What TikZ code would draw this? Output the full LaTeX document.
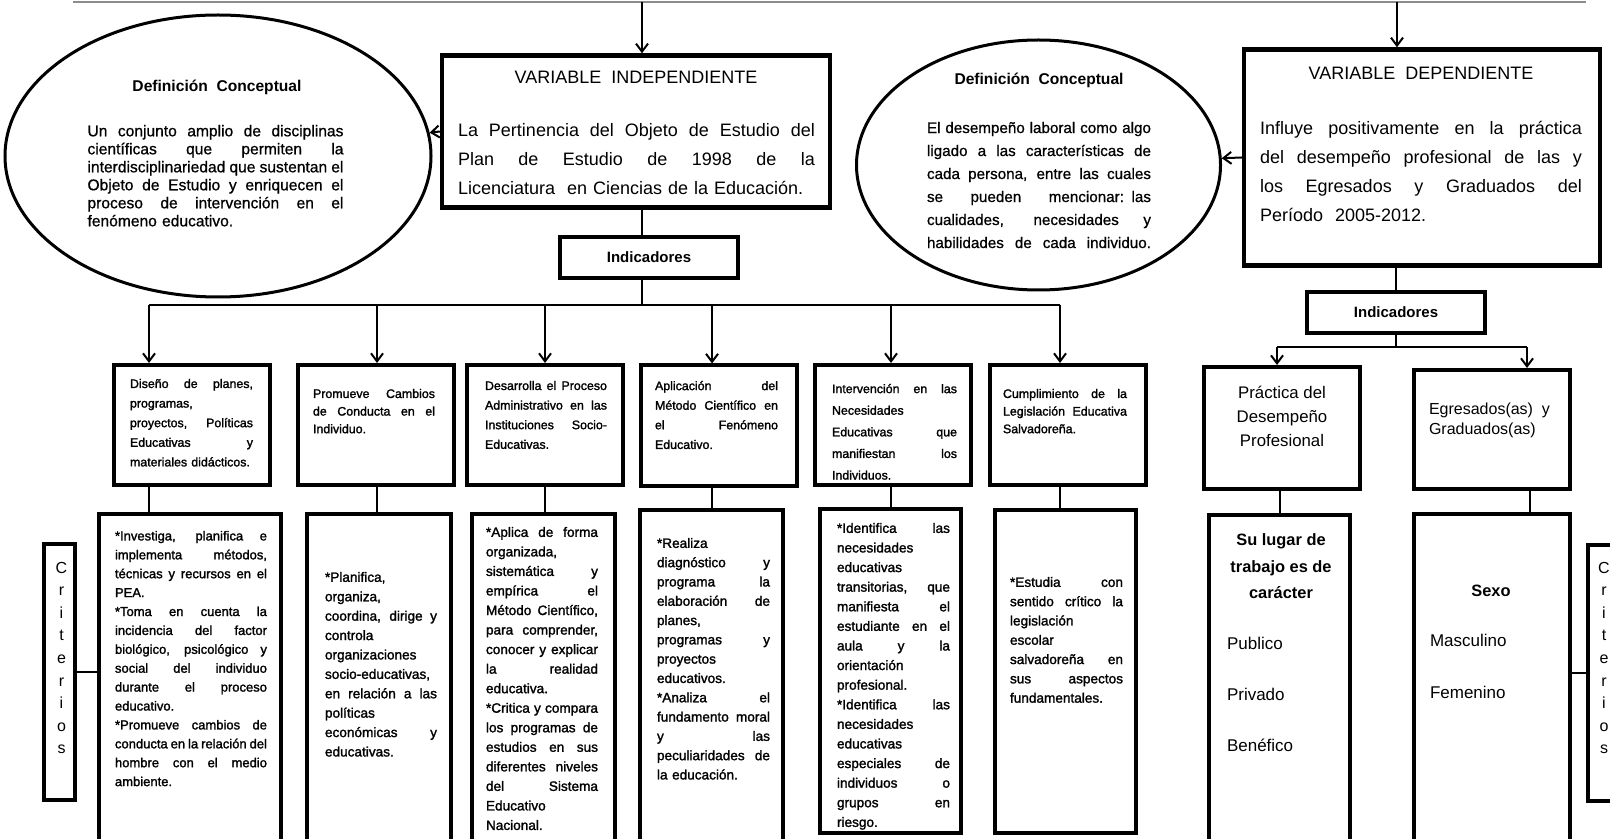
\documentclass[tikz,border=0pt]{standalone}
\usepackage{fontspec}
\setmainfont{Liberation Sans}
\newfontfamily\gruesa[FakeBold=1.6]{Liberation Sans}
\newfontfamily\media[FakeBold=0.8]{Liberation Sans}
\usetikzlibrary{shapes.geometric, arrows.meta}
\setlength{\parindent}{0pt}
\hbadness=10000
\hfuzz=4pt
\newcommand{\anchorenglon}{50pt}
\newcommand{\renglon}[1]{\leavevmode{\spaceskip=.278em plus 1fil minus .1em\relax\hbox to \anchorenglon{#1}}}

\begin{document}
\begin{tikzpicture}[x=0.5pt, y=-0.5pt, >={Straight Barb[length=4pt,width=6pt]}, line width=1pt,
  ancho/.style={text width=#1, execute at begin node={\def\anchorenglon{#1}}},
  caja/.style={draw, line width=2.2pt, inner sep=0pt},
  cuadro/.style={draw, line width=2pt, inner sep=0pt, minimum width=78pt, minimum height=60pt},
  larga/.style={draw, line width=2pt, inner sep=0pt},
  ovalo/.style={ellipse, draw, line width=1.5pt, inner sep=0pt},
  cabeza/.style={font=\fontsize{9}{11}\selectfont, inner sep=0pt, anchor=north},
  titulo/.style={font=\bfseries\fontsize{7.8}{9}\selectfont, inner sep=0pt, anchor=north},
  grande/.style={font=\fontsize{9}{14.5}\selectfont, inner sep=0pt, anchor=north, align=left},
  chico/.style={font=\gruesa\fontsize{6.2}{9.8}\selectfont, inner sep=0pt, anchor=north, align=left},
  abajo/.style={font=\gruesa\fontsize{6.8}{9.7}\selectfont, inner sep=0pt, anchor=north, align=left},
  letras/.style={font=\fontsize{8}{11.3}\selectfont, inner sep=0pt, anchor=north, align=center}]

  \useasboundingbox (0,0) rectangle (1610,839);
  \clip (0,0) rectangle (1610,839);

  \coordinate (topL) at (73,2);
  \coordinate (topR) at (1586,2);
  \coordinate (tI) at (642,2);
  \coordinate (tD) at (1397,2);
  \coordinate (busI) at (642,305);
  \coordinate (busD) at (1396,347);

  \node[caja, minimum width=194pt, minimum height=76pt] (vi) at (636,131.5) {};
  \node[cabeza] (viT) at (636,70.5) {VARIABLE\ \ INDEPENDIENTE};
  \node[grande, ancho=178.5pt] (viB) at (636.5,122) {\renglon{La Pertinencia del Objeto de Estudio del}\\
    \renglon{Plan de Estudio de 1998 de la}\\ Licenciatura\ \ en Ciencias de la Educación.};

  \node[caja, minimum width=178pt, minimum height=108pt] (vd) at (1422,157.5) {};
  \node[cabeza] (vdT) at (1421,66.5) {VARIABLE\ \ DEPENDIENTE};
  \node[grande, ancho=161pt] (vdB) at (1421,120) {\renglon{Influye positivamente en la práctica}\\
    \renglon{del desempeño profesional de las y}\\ \renglon{los Egresados y Graduados del}\\ Período\ \ 2005-2012.};

  \node[ovalo, minimum width=213pt, minimum height=141pt] (ellL) at (218,156) {};
  \node[titulo] (ellLT) at (217,79) {Definición\ \ Conceptual};
  \node[grande, font=\media\fontsize{7.8}{9}\selectfont, ancho=128pt] (ellLB) at (215.5,124) {\renglon{Un conjunto amplio de disciplinas}\\
    \renglon{científicas que permiten la}\\ \renglon{interdisciplinariedad que sustentan el}\\
    \renglon{Objeto de Estudio y enriquecen el}\\ \renglon{proceso de intervención en el}\\ fenómeno educativo.};

  \node[ovalo, minimum width=182pt, minimum height=125pt] (ellR) at (1038.5,165) {};
  \node[titulo] (ellRT) at (1039,72) {Definición\ \ Conceptual};
  \node[grande, font=\media\fontsize{7.6}{11.5}\selectfont, ancho=112pt] (ellRB) at (1039,121) {\renglon{El desempeño laboral como algo}\\
    \renglon{ligado a las características de}\\ \renglon{cada persona, entre las cuales}\\
    \renglon{se pueden mencionar: las}\\ \renglon{cualidades, necesidades y}\\ \renglon{habilidades de cada individuo.}};

  \node[caja, line width=2pt, minimum width=89pt, minimum height=20.5pt, font=\bfseries\fontsize{7.5}{9}\selectfont] (indI) at (649,257.5) {Indicadores};
  \node[caja, line width=2pt, minimum width=89pt, minimum height=20.5pt, font=\bfseries\fontsize{7.5}{9}\selectfont] (indD) at (1396,312.5) {Indicadores};

  \node[cuadro] (c1) at (192,425) {};
  \node[cuadro] (c2) at (376,425) {};
  \node[cuadro] (c3) at (545,425) {};
  \node[cuadro] (c4) at (719,425.5) {};
  \node[cuadro] (c5) at (893,425) {};
  \node[cuadro] (c6) at (1068,425) {};
  \node[cuadro, minimum height=61pt] (c7) at (1282,428) {};
  \node[cuadro, minimum height=59.5pt] (c8) at (1492,429.5) {};

  \node[chico, ancho=61.5pt] (c1t) at (191.5,378) {\renglon{Diseño de planes,}\\ programas,\\
    \renglon{proyectos, Políticas}\\ \renglon{Educativas y}\\ materiales didácticos.};
  \node[chico, font=\gruesa\fontsize{6.2}{8.8}\selectfont, ancho=61pt] (c2t) at (374,388) {\renglon{Promueve Cambios}\\
    \renglon{de Conducta en el}\\ Individuo.};
  \node[chico, ancho=61pt] (c3t) at (546,380) {\renglon{Desarrolla el Proceso}\\ \renglon{Administrativo en las}\\
    \renglon{Instituciones Socio-}\\ Educativas.};
  \node[chico, ancho=61.5pt] (c4t) at (716.5,380) {\renglon{Aplicación del}\\ \renglon{Método Científico en}\\
    \renglon{el Fenómeno}\\ Educativo.};
  \node[chico, font=\gruesa\fontsize{6.2}{10.8}\selectfont, ancho=62.5pt] (c5t) at (894.5,383) {\renglon{Intervención en las}\\ Necesidades\\
    \renglon{Educativas que}\\ \renglon{manifiestan los}\\ Individuos.};
  \node[chico, font=\gruesa\fontsize{6.2}{8.8}\selectfont, ancho=62pt] (c6t) at (1065,388) {\renglon{Cumplimiento de la}\\
    \renglon{Legislación Educativa}\\ Salvadoreña.};
  \node[chico, font=\fontsize{8.4}{12}\selectfont, align=center] (c7t) at (1282,385) {Práctica del\\ Desempeño\\ Profesional};
  \node[chico, font=\fontsize{8}{10}\selectfont, anchor=north west] (c8t) at (1428,402) {Egresados(as)\ \ y\\ Graduados(as)};

  \node[larga, minimum width=91pt, minimum height=172pt] (d1) at (190,686) {};
  \node[larga, minimum width=72pt, minimum height=172pt] (d2) at (379,686) {};
  \node[larga, minimum width=71.5pt, minimum height=172pt] (d3) at (543.5,686) {};
  \node[larga, minimum width=71.5pt, minimum height=174pt] (d4) at (711.5,684) {};
  \node[larga, minimum width=70.5pt, minimum height=162pt] (d5) at (890.5,671) {};
  \node[larga, minimum width=70.5pt, minimum height=161.5pt] (d6) at (1065.5,671.5) {};
  \node[larga, minimum width=70.5pt, minimum height=171.5pt] (d7) at (1279.5,686.5) {};
  \node[larga, minimum width=78pt, minimum height=172pt] (d8) at (1492,686) {};

  \node[abajo, font=\gruesa\fontsize{6.5}{9.45}\selectfont, ancho=76pt] (d1t) at (191,530) {\renglon{*Investiga, planifica e}\\
    \renglon{implementa métodos,}\\ \renglon{técnicas y recursos en el}\\ PEA.\\
    \renglon{*Toma en cuenta la}\\ \renglon{incidencia del factor}\\ \renglon{biológico, psicológico y}\\
    \renglon{social del individuo}\\ \renglon{durante el proceso}\\ educativo.\\
    \renglon{*Promueve cambios de}\\ \renglon{conducta en la relación del}\\ \renglon{hombre con el medio}\\ ambiente.};
  \node[abajo, ancho=56pt] (d2t) at (381,571) {*Planifica,\\ organiza,\\ \renglon{coordina, dirige y}\\ controla\\
    organizaciones\\ socio-educativas,\\ \renglon{en relación a las}\\ políticas\\ \renglon{económicas y}\\ educativas.};
  \node[abajo, font=\gruesa\fontsize{6.8}{9.77}\selectfont, ancho=56pt] (d3t) at (542,526) {\renglon{*Aplica de forma}\\ organizada,\\
    \renglon{sistemática y}\\ \renglon{empírica el}\\ \renglon{Método Científico,}\\ \renglon{para comprender,}\\
    \renglon{conocer y explicar}\\ \renglon{la realidad}\\ educativa.\\ \renglon{*Critica y compara}\\
    \renglon{los programas de}\\ \renglon{estudios en sus}\\ \renglon{diferentes niveles}\\ \renglon{del Sistema}\\ Educativo\\ Nacional.};
  \node[abajo, font=\gruesa\fontsize{6.8}{9.65}\selectfont, ancho=56.5pt] (d4t) at (713.5,537) {*Realiza\\ \renglon{diagnóstico y}\\
    \renglon{programa la}\\ \renglon{elaboración de}\\ planes,\\ \renglon{programas y}\\ proyectos\\ educativos.\\
    \renglon{*Analiza el}\\ \renglon{fundamento moral}\\ \renglon{y las}\\ \renglon{peculiaridades de}\\ la educación.};
  \node[abajo, font=\gruesa\fontsize{6.8}{9.8}\selectfont, ancho=56.5pt] (d5t) at (893.5,522) {\renglon{*Identifica las}\\ necesidades\\
    educativas\\ \renglon{transitorias, que}\\ \renglon{manifiesta el}\\ \renglon{estudiante en el}\\ \renglon{aula y la}\\
    orientación\\ profesional.\\ \renglon{*Identifica las}\\ necesidades\\ educativas\\ \renglon{especiales de}\\
    \renglon{individuos o}\\ \renglon{grupos en}\\ riesgo.};
  \node[abajo, font=\gruesa\fontsize{6.8}{9.65}\selectfont, ancho=56.5pt] (d6t) at (1066.5,576) {\renglon{*Estudia con}\\
    \renglon{sentido crítico la}\\ legislación\\ escolar\\ \renglon{salvadoreña en}\\ \renglon{sus aspectos}\\ fundamentales.};
  \node[abajo, font=\bfseries\fontsize{8.2}{13.2}\selectfont, align=center] (d7t) at (1281,533) {Su lugar de\\ trabajo es de\\ carácter};
  \node[abajo, font=\fontsize{8.5}{25.5}\selectfont, anchor=north west] (d7o) at (1226,636) {Publico\\ Privado\\ Benéfico};
  \node[abajo, font=\bfseries\fontsize{8.2}{10}\selectfont] (d8t) at (1491,584) {Sexo};
  \node[abajo, font=\fontsize{8.5}{26}\selectfont, anchor=north west] (d8o) at (1429,633) {Masculino\\ Femenino};

  \node[larga, minimum width=15.5pt, minimum height=128pt] (critL) at (59.5,672) {};
  \node[letras] (critLt) at (61.5,561) {C\\ r\\ i\\ t\\ e\\ r\\ i\\ o\\ s};
  \node[larga, minimum width=15.5pt, minimum height=128pt] (critR) at (1603,672.5) {};
  \node[letras] (critRt) at (1604,561) {C\\ r\\ i\\ t\\ e\\ r\\ i\\ o\\ s};

  \draw[black!45, line width=1.2pt] (topL) -- (topR);
  \draw[->] (tI) -- (tI |- vi.north);
  \draw[->] (tD) -- (tD |- vd.north);
  \draw[->] (vi.west) -- (ellL);
  \draw[->] (vd.west) -- (ellR);
  \draw (vi.south -| tI) -- (indI.north -| tI);
  \draw (indI.south -| tI) -- (busI);
  \draw (149,305) -- (1060,305);
  \foreach \x/\n in {149/1, 377/2, 545/3, 712/4, 891/5, 1060/6} {
    \draw[->] (\x,305) -- (\x,305 |- c\n.north);
    \draw (\x,0 |- c\n.south) -- (\x,0 |- d\n.north);
  }
  \draw (vd.south -| indD) -- (indD.north);
  \draw (indD.south) -- (busD);
  \draw (1277,347) -- (1527,347);
  \draw[->] (1277,347) -- (1277,347 |- c7.north);
  \draw[->] (1527,347) -- (1527,347 |- c8.north);
  \draw (1280,0 |- c7.south) -- (1280,0 |- d7.north);
  \draw (1530,0 |- c8.south) -- (1530,0 |- d8.north);
  \draw (critL.east) -- (critL.east -| d1.west);
  \draw (critR.west) -- (critR.west -| d8.east);
\end{tikzpicture}
\end{document}
